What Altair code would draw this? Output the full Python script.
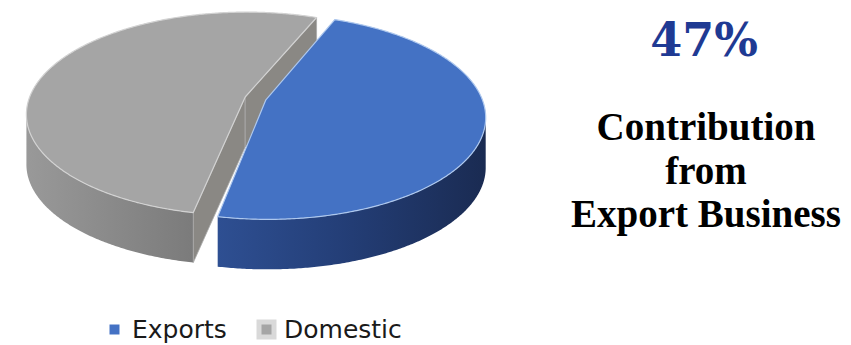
import math
import numpy as np
import pandas as pd
import altair as alt

# ---------------- data ----------------
categories = ["Exports", "Domestic"]
shares = [47, 53]
headline = "47%"
caption_lines = ["Contribution", "from", "Export Business"]

# ---------------- styling / geometry parameters ----------------
TOP_COLOR = {"Exports": "#4472C4", "Domestic": "#A5A5A5"}
TOP_STROKE = {"Exports": "#aec8ee", "Domestic": "#d2d2d2"}
SIDE_STOPS = {
    "Exports": [(0.0, "#2E4F92"), (0.5, "#233D75"), (1.0, "#1A2B52")],
    "Domestic": [(0.0, "#999999"), (1.0, "#7B7B7B")],
}
CUT_COLOR = {"Exports": "#2A4480", "Domestic": "#8A8884"}

START = 68.0      # start angle of first slice (deg, counter-clockwise from +x)
EXPLODE = 0.05    # slice explosion, in radius units
P = 0.165         # perspective strength (back of the disc is farther away)
STEP = 0.5        # angular resolution (deg)

W, H = 851, 345
X0, A = 255.5, 216.0   # pixel of disc centre, x scale
Y0, B = 98.4, 99.3     # pixel of disc centre, y scale
DEPTH = 50.0 / B       # pie thickness in projected y units


def proj(x, y):
    d = 1.0 + P * y
    return (x / d, y / d)


rows = []
layers_spec = []  # (poly name, fill, stroke, strokeWidth)


def add_poly(name, pts):
    for i, (x, y) in enumerate(pts):
        rows.append({"poly": name, "i": i, "x": x, "y": y})


SIL = math.degrees(math.asin(P))  # silhouette angles: -SIL and 180+SIL


def angle_list(a_from, a_to):
    n = max(2, int(abs(a_from - a_to) / STEP) + 1)
    angs = list(np.linspace(a_from, a_to, n))
    lo, hi = min(a_from, a_to), max(a_from, a_to)
    for base in (-SIL, 180.0 + SIL):
        k = math.ceil((lo - base) / 360.0)
        while base + 360.0 * k <= hi:
            angs.append(base + 360.0 * k)
            k += 1
    angs = sorted(set(angs), reverse=(a_from > a_to))
    return angs


slices = []
a0 = START
for cat, sh in zip(categories, shares):
    span = sh / 100.0 * 360.0
    a1 = a0 - span
    slices.append((cat, a0, a1))
    a0 = a1


def mid_sin(s):
    return math.sin(math.radians((s[1] + s[2]) / 2))


# draw back-most slice first
for cat, a0, a1 in sorted(slices, key=mid_sin, reverse=True):
    mid = math.radians((a0 + a1) / 2)
    ox, oy = EXPLODE * math.cos(mid), EXPLODE * math.sin(mid)
    apex = proj(ox, oy)

    def rim(a, ox=ox, oy=oy):
        r = math.radians(a)
        return proj(ox + math.cos(r), oy + math.sin(r))

    angs = angle_list(a0, a1)
    # side wall (front part, between the silhouette points)
    vis = [a for a in angs if math.sin(math.radians(a)) <= -P + 1e-9]
    if len(vis) > 1:
        topedge = [rim(a) for a in vis]
        bottom = [(x, y - DEPTH) for (x, y) in reversed(topedge)]
        name = f"{cat}_side"
        add_poly(name, topedge + bottom + [topedge[0]])
        grad = alt.Gradient(gradient="linear", x1=0, x2=1, y1=0, y2=0,
                            stops=[alt.GradientStop(offset=o, color=c) for o, c in SIDE_STOPS[cat]])
        layers_spec.append((name, grad, None, 0))
    # cut faces that face the viewer
    for phi, normal in ((a0, a0 + 90), (a1, a1 - 90)):
        if math.sin(math.radians(normal)) < 0:
            p = rim(phi)
            name = f"{cat}_cut_{int(round(phi))}"
            add_poly(name, [apex, p, (p[0], p[1] - DEPTH), (apex[0], apex[1] - DEPTH), apex])
            layers_spec.append((name, CUT_COLOR[cat], "#a9a9a9", 0.8))
    # top face
    name = f"{cat}_top"
    add_poly(name, [apex] + [rim(a) for a in angs] + [apex])
    layers_spec.append((name, TOP_COLOR[cat], TOP_STROKE[cat], 1.2))

geo = pd.DataFrame(rows)

xs = alt.Scale(domain=[-X0 / A, (W - X0) / A], nice=False, zero=False)
ys = alt.Scale(domain=[(Y0 - H) / B, Y0 / B], nice=False, zero=False)

layers = []
for name, fill, stroke, sw in layers_spec:
    kw = dict(fill=fill, strokeWidth=sw, interpolate="linear", strokeJoin="round")
    kw["stroke"] = stroke if stroke else "transparent"
    layers.append(
        alt.Chart(geo)
        .transform_filter(alt.datum.poly == name)
        .mark_line(**kw)
        .encode(
            x=alt.X("x:Q", scale=xs, axis=None),
            y=alt.Y("y:Q", scale=ys, axis=None),
            order=alt.Order("i:Q"),
        )
    )

legend = alt.Legend(
    title=None, orient="none", legendX=102, legendY=317, direction="horizontal",
    symbolType="square", symbolSize=225, symbolStrokeWidth=5, symbolOpacity=1,
    labelFont="DejaVu Sans", labelFontSize=25, labelColor="#1a1a1a",
    labelOffset=5, columnPadding=22, padding=0,
)
leg_df = pd.DataFrame({"slice": categories, "share": shares})
legend_layer = (
    alt.Chart(leg_df)
    .mark_point(shape="square", filled=True, strokeWidth=5)
    .encode(
        x=alt.value(-300),
        y=alt.value(-300),
        color=alt.Color("slice:N", scale=alt.Scale(domain=categories, range=[TOP_COLOR[c] for c in categories]), legend=legend),
        stroke=alt.Stroke("slice:N", scale=alt.Scale(domain=categories, range=["#ffffff", "#d9d9d9"]), legend=legend),
    )
)
layers.append(legend_layer)

head = (
    alt.Chart(pd.DataFrame({"t": [headline]}))
    .mark_text(font="DejaVu Serif", fontWeight="bold", fontSize=46, color="#1F3A93",
               align="center", baseline="alphabetic")
    .encode(text="t:N", x=alt.value(704), y=alt.value(56))
)
layers.append(head)

baselines = [140, 184, 227]
for line, yb in zip(caption_lines, baselines):
    layers.append(
        alt.Chart(pd.DataFrame({"t": [line]}))
        .mark_text(font="Liberation Serif", fontWeight="bold", fontSize=39, color="#000000",
                   align="center", baseline="alphabetic")
        .encode(text="t:N", x=alt.value(706), y=alt.value(yb))
    )

chart = (
    alt.layer(*layers)
    .properties(width=W, height=H, padding=0, autosize=alt.AutoSizeParams(type="none"))
    .configure_view(stroke=None)
)

chart.save("out.html", embed_options={"renderer": "svg", "actions": False})
